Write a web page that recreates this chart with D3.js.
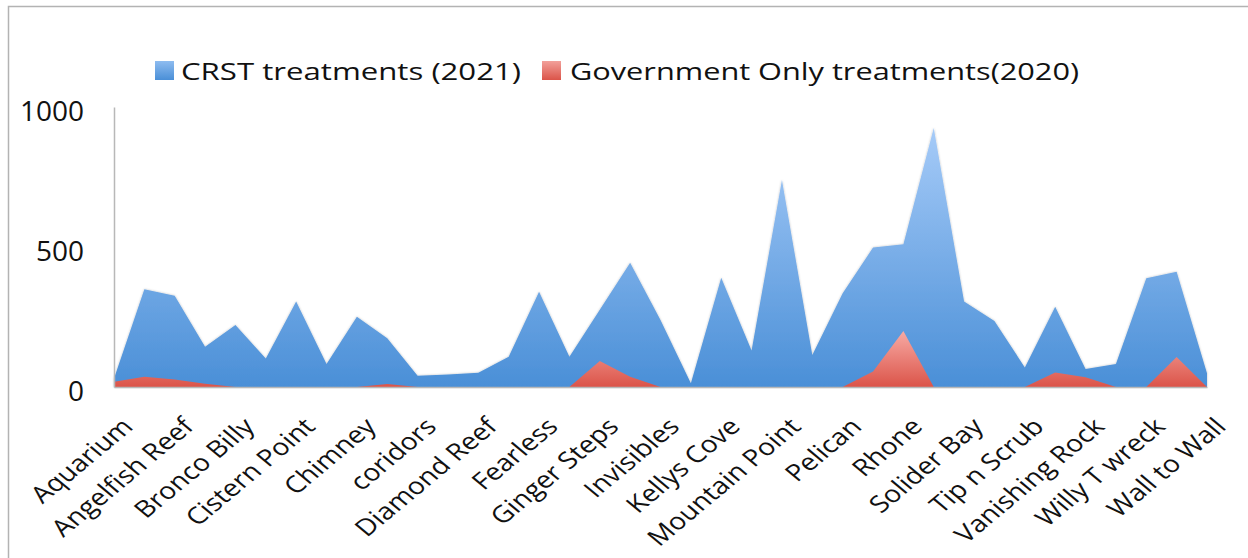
<!DOCTYPE html>
<html>
<head>
<meta charset="utf-8">
<script src="https://cdn.jsdelivr.net/npm/d3@7"></script>
<style>
  html, body { margin: 0; padding: 0; background: #fff; }
  svg { display: block; }
  text { font-family: "Open Sans", "DejaVu Sans", sans-serif; fill: #111; }
</style>
</head>
<body>
<svg id="chart" width="1248" height="558"></svg>
<script>
// ---- data ----
const categories = [
  "Aquarium", "Alice's Wonderland", "Angelfish Reef", "Blonde Rock", "Bronco Billy",
  "Carrot Shoal", "Cistern Point", "Coral Gardens", "Chimney", "Cooper Wall",
  "coridors", "Dog Rocks", "Diamond Reef", "Eagle Ray", "Fearless",
  "Frenchmans Cay", "Ginger Steps", "Great Harbour", "Invisibles", "Indians",
  "Kellys Cove", "Marina Cay", "Mountain Point", "Painted Walls", "Pelican",
  "Rainbow Canyons", "Rhone", "Santa Monica Rock", "Solider Bay", "Thumb Rock",
  "Tip n Scrub", "Twin Towers", "Vanishing Rock", "Visibles", "Willy T wreck",
  "Wall Street", "Wall to Wall"
];
const crst2021 = [
  30, 349, 326, 144, 221, 102, 305, 82, 251, 174,
  40, 45, 51, 108, 340, 108, 276, 444, 239, 13,
  390, 130, 739, 114, 335, 498, 510, 925, 305, 236,
  70, 287, 64, 82, 388, 412, 49
];
const gov2020 = [
  19, 37, 27, 12, 0, 0, 0, 0, 0, 11,
  0, 0, 0, 0, 0, 0, 93, 37, 0, 0,
  0, 0, 0, 0, 0, 55, 200, 0, 0, 0,
  0, 52, 35, 0, 0, 107, 0
];
const seriesNames = ["CRST treatments (2021)", "Government Only treatments(2020)"];
const yTicks = [0, 500, 1000];

// ---- layout ----
const svg = d3.select("#chart");
const x = d3.scalePoint().domain(categories).range([114, 1207]);
const y = d3.scaleLinear().domain([0, 1000]).range([387, 107]);

const defs = svg.append("defs");
function grad(id, top, bottom) {
  const g = defs.append("linearGradient").attr("id", id)
    .attr("x1", 0).attr("y1", 0).attr("x2", 0).attr("y2", 1);
  g.append("stop").attr("offset", "0%").attr("stop-color", top);
  g.append("stop").attr("offset", "100%").attr("stop-color", bottom);
}
grad("gBlue", "#a6cbf8", "#4a8fd7");
grad("gRed", "#f7aaa4", "#db5449");
grad("gBlueL", "#8ebcf0", "#4a8fd7");
grad("gRedL", "#f2a09a", "#db5449");

const f = defs.append("filter").attr("id", "sh").attr("x", "-5%").attr("y", "-5%").attr("width", "110%").attr("height", "110%");
f.append("feDropShadow").attr("dx", 0).attr("dy", 0).attr("stdDeviation", 1.2)
  .attr("flood-color", "#000").attr("flood-opacity", 0.25);

// frame
svg.append("path").attr("d", "M8.5,558 V6.5 H1248")
  .attr("fill", "none").attr("stroke", "#b3b3b3").attr("stroke-width", 1.5);

// areas
const area = d3.area()
  .x((d, i) => x(categories[i]))
  .y0(y(0))
  .y1(d => y(d));

svg.append("path").datum(crst2021)
  .attr("d", area).attr("fill", "url(#gBlue)").attr("filter", "url(#sh)");
svg.append("path").datum(gov2020)
  .attr("d", area).attr("fill", "url(#gRed)");

// axes
const yAxis = d3.axisLeft(y).tickValues(yTicks).tickSize(0).tickPadding(0).tickFormat(d3.format("d"));
const gy = svg.append("g").attr("transform", "translate(114,0)").call(yAxis);
gy.select(".domain").attr("stroke", "#b8b8b8").attr("stroke-width", 1.5);
gy.selectAll("text")
  .attr("x", -30).attr("dy", null).attr("y", 13)
  .style("font-size", "28px").attr("fill", "#111");

const labelCats = categories.filter((c, i) => i % 2 === 0);
const xAxis = d3.axisBottom(x).tickValues(labelCats).tickSize(0).tickPadding(0);
const gx = svg.append("g").attr("transform", `translate(0,${y(0)})`).call(xAxis);
gx.select(".domain").attr("stroke", "#b8b8b8").attr("stroke-width", 1.5);
gx.selectAll("text")
  .attr("y", 0).attr("dy", null)
  .attr("text-anchor", "end")
  .attr("transform", "translate(20,41) scale(1.2,1) rotate(-45)")
  .style("font-size", "23.5px").attr("fill", "#111");

// legend
const legend = [
  { name: seriesNames[0], fill: "url(#gBlueL)", sx: 155, tx: 181, tw: 340 },
  { name: seriesNames[1], fill: "url(#gRedL)", sx: 542, tx: 570, tw: 509 }
];
const lg = svg.append("g");
legend.forEach(l => {
  lg.append("rect").attr("x", l.sx).attr("y", 61).attr("width", 19).attr("height", 19)
    .attr("fill", l.fill);
  lg.append("text").attr("x", l.tx).attr("y", 80)
    .attr("textLength", l.tw).attr("lengthAdjust", "spacingAndGlyphs")
    .style("font-size", "24px").text(l.name);
});
</script>
</body>
</html>
